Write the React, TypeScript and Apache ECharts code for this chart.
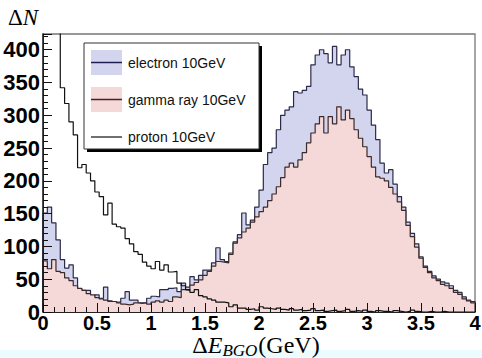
import React, { useEffect, useRef } from "react";
import * as echarts from "echarts";

const BIN_WIDTH = 0.04;

// electron 10GeV (blue, filled)
const electron = [
  151, 160, 136, 110, 80, 67, 72, 52, 35, 33,
  33, 24, 26, 21, 38, 17, 15, 15, 21, 31,
  18, 18, 14, 14, 21, 24, 23, 34, 34, 36,
  37, 31, 44, 38, 54, 49, 56, 64, 64, 75,
  98, 80, 77, 90, 107, 118, 151, 133, 140, 160,
  186, 225, 243, 250, 278, 300, 308, 313, 336, 334,
  338, 344, 377, 392, 400, 394, 380, 405, 377, 392,
  400, 374, 359, 340, 331, 308, 285, 263, 227, 212,
  217, 195, 176, 160, 137, 120, 104, 84, 70, 62,
  55, 50, 46, 44, 40, 33, 30, 23, 18, 16,
];

// gamma ray 10GeV (pink, filled)
const gamma = [
  78, 66, 80, 62, 60, 52, 48, 40, 36, 33,
  28, 26, 22, 20, 18, 16, 16, 14, 12, 11,
  12, 14, 13, 14, 12, 15, 17, 15, 18, 16,
  23, 22, 34, 33, 41, 45, 49, 56, 62, 70,
  77, 76, 75, 88, 105, 113, 122, 128, 137, 145,
  153, 160, 170, 180, 191, 205, 221, 227, 221, 232,
  243, 258, 273, 287, 298, 273, 298, 287, 313, 293,
  308, 295, 278, 265, 252, 237, 221, 206, 204, 200,
  190, 180, 168, 155, 132, 115, 99, 82, 68, 60,
  52, 48, 42, 40, 36, 30, 27, 20, 17, 14,
];

// proton 10GeV (black line)
const proton = [
  900, 700, 560, 470, 342, 318, 290, 270, 220, 225,
  212, 200, 183, 176, 148, 166, 134, 130, 128, 112,
  104, 92, 88, 76, 70, 66, 77, 64, 72, 61,
  62, 44, 40, 34, 30, 34, 25, 23, 20, 18,
  15, 15, 14, 8, 11, 6, 6, 4, 5, 3,
  8, 6, 5, 4, 6, 4, 3, 5, 3, 4,
  2, 3, 5, 2, 3, 1, 2, 3, 1, 2,
  4, 1, 2, 1, 3, 1, 0, 2, 1, 1,
  0, 2, 1, 0, 1, 3, 1, 0, 0, 1,
  0, 0, 1, 0, 0, 0, 0, 0, 0, 0,
];

const legendNames = ["electron 10GeV", "gamma ray 10GeV", "proton 10GeV"];
const X_MIN = 0;
const X_MAX = 4;
const X_INTERVAL = 0.5;
const Y_MIN = 0;
const Y_MAX = 424;
const Y_INTERVAL = 50;

const BLUE_FILL = "#d3d5ef";
const PINK_FILL = "#f5d8d8";

function stepData(values: number[]) {
  const pts: number[][] = [[0, 0]];
  values.forEach((v, i) => pts.push([+(i * BIN_WIDTH).toFixed(4), v]));
  const end = +(values.length * BIN_WIDTH).toFixed(4);
  pts.push([end, values[values.length - 1]]);
  pts.push([end, 0]);
  return pts;
}

export default function App() {
  const ref = useRef<HTMLDivElement>(null);
  useEffect(() => {
    if (!ref.current) return;
    const chart = echarts.init(ref.current, undefined, { renderer: "svg" });
    const labelFont = {
      color: "#000",
      fontFamily: "Liberation Sans",
      fontWeight: "bold" as const,
    };
    const legendText = { fontFamily: "Liberation Sans", fontSize: 14, fill: "#111", verticalAlign: "middle" as const };
    chart.setOption({
      animation: false,
      backgroundColor: "#fff",
      grid: {
        left: 43,
        right: 7,
        top: 34,
        bottom: 46,
        containLabel: false,
        outerBoundsMode: "none",
        show: true,
        borderColor: "#777",
        borderWidth: 1.3,
        backgroundColor: "transparent",
      },
      xAxis: {
        type: "value",
        min: X_MIN,
        max: X_MAX,
        interval: X_INTERVAL,
        z: 10,
        axisLine: { show: true, lineStyle: { color: "#222", width: 1 } },
        axisTick: { show: true, inside: true, length: 9, lineStyle: { color: "#111", width: 1 } },
        minorTick: { show: true, splitNumber: 5, length: 5, lineStyle: { color: "#111", width: 1 } },
        splitLine: { show: false },
        axisLabel: { ...labelFont, fontSize: 20, margin: 2, lineHeight: 18 },
      },
      yAxis: {
        type: "value",
        min: Y_MIN,
        max: Y_MAX,
        interval: Y_INTERVAL,
        z: 10,
        axisLine: { show: true, lineStyle: { color: "#222", width: 1 } },
        axisTick: { show: true, inside: true, length: 9, lineStyle: { color: "#111", width: 1 } },
        minorTick: { show: true, splitNumber: 5, length: 5, lineStyle: { color: "#111", width: 1 } },
        splitLine: { show: false },
        axisLabel: {
          ...labelFont,
          fontSize: 22,
          margin: 3,
          showMaxLabel: false,
          formatter: (v: number) => (v % Y_INTERVAL === 0 ? String(v) : ""),
        },
      },
      series: [
        {
          name: legendNames[0],
          type: "line",
          step: "end",
          showSymbol: false,
          symbol: "none",
          silent: true,
          clip: true,
          data: stepData(electron),
          lineStyle: { color: "#2a2a4a", width: 1.2 },
          areaStyle: { color: BLUE_FILL, opacity: 1 },
          z: 2,
        },
        {
          name: legendNames[1],
          type: "line",
          step: "end",
          showSymbol: false,
          symbol: "none",
          silent: true,
          clip: true,
          data: stepData(gamma),
          lineStyle: { color: "#3c2a2a", width: 1.2 },
          areaStyle: { color: PINK_FILL, opacity: 1 },
          z: 3,
        },
        {
          name: legendNames[2],
          type: "line",
          step: "end",
          showSymbol: false,
          symbol: "none",
          silent: true,
          clip: true,
          data: stepData(proton),
          lineStyle: { color: "#111", width: 1.2 },
          z: 4,
        },
      ],
      graphic: [
        {
          type: "rect",
          silent: true,
          shape: { x: 0, y: 350, width: 482, height: 8 },
          style: { fill: "#ebfbfe" },
          z: -10,
        },
        {
          type: "text",
          silent: true,
          left: 8,
          top: 6,
          style: {
            text: "{d|Δ}{n|N}",
            rich: {
              d: { fontFamily: "Liberation Serif", fontSize: 23, color: "#000" },
              n: { fontFamily: "Liberation Serif", fontSize: 23, fontStyle: "italic", color: "#000" },
            },
          },
          z: 20,
        },
        {
          type: "text",
          silent: true,
          x: 256,
          y: 345,
          style: {
            text: "{d|Δ}{i|E}{s|BGO}{d|(GeV)}",
            align: "center",
            verticalAlign: "middle",
            rich: {
              d: { fontFamily: "Liberation Serif", fontSize: 24, lineHeight: 22, fill: "#000", color: "#000" },
              i: { fontFamily: "Liberation Serif", fontSize: 24, lineHeight: 22, fontStyle: "italic", fill: "#000", color: "#000" },
              s: {
                fontFamily: "Liberation Serif",
                fontSize: 17,
                lineHeight: 15,
                fontStyle: "italic",
                fill: "#000",
                color: "#000",
                padding: [10, 1, 0, 0],
              },
            },
          },
          z: 20,
        },
        // legend box
        {
          type: "group",
          silent: true,
          z: 30,
          children: [
            { type: "rect", shape: { x: 87, y: 46, width: 175, height: 106 }, style: { fill: "#000" } },
            {
              type: "rect",
              shape: { x: 84, y: 43, width: 175, height: 106 },
              style: { fill: "#fff", stroke: "#333", lineWidth: 1 },
            },
            { type: "rect", shape: { x: 91, y: 50, width: 31, height: 25 }, style: { fill: BLUE_FILL } },
            { type: "line", shape: { x1: 91, y1: 62.5, x2: 122, y2: 62.5 }, style: { stroke: "#1e1e55", lineWidth: 1.5 } },
            { type: "rect", shape: { x: 91, y: 87, width: 31, height: 25 }, style: { fill: PINK_FILL } },
            { type: "line", shape: { x1: 91, y1: 99.5, x2: 122, y2: 99.5 }, style: { stroke: "#4a2020", lineWidth: 1.5 } },
            { type: "line", shape: { x1: 91, y1: 137, x2: 122, y2: 137 }, style: { stroke: "#111", lineWidth: 1.2 } },
            { type: "text", x: 128, y: 63, style: { text: legendNames[0], ...legendText } },
            { type: "text", x: 128, y: 100, style: { text: legendNames[1], ...legendText } },
            { type: "text", x: 128, y: 137, style: { text: legendNames[2], ...legendText } },
          ],
        },
      ],
    });
    return () => chart.dispose();
  }, []);
  return (
    <div
      ref={ref}
      style={{ position: "fixed", left: 0, top: 0, width: 482, height: 358, background: "#fff" }}
    />
  );
}
